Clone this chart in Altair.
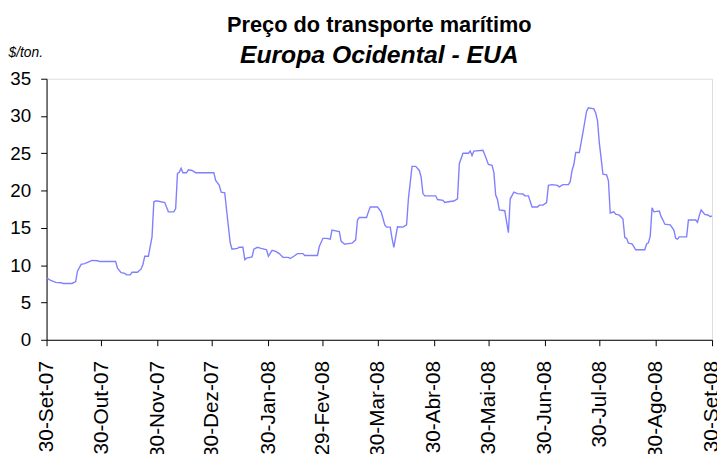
import altair as alt
import pandas as pd

start = "2007-09-30"

# day offsets from 30-Set-07 and price ($/ton.)
days = [
    0, 2, 5, 8, 9, 14, 16, 17, 19, 21,
    25, 28, 29, 38, 39, 41, 43, 44, 46, 47,
    50, 52, 53, 54, 56, 58, 59, 60, 61, 65,
    67, 70, 71, 72, 73, 74, 75, 77, 78, 80,
    82, 92, 93, 95, 96, 98, 99, 101, 102, 105,
    106, 108, 109, 110, 113, 114, 116, 118, 121, 122,
    124, 126, 128, 130, 133, 134, 136, 138, 141, 142,
    149, 150, 152, 154, 156, 157, 159, 161, 162, 164,
    165, 168, 170, 171, 172, 176, 177, 178, 182, 184,
    185, 186, 187, 189, 190, 191, 192, 193, 196, 198,
    199, 201, 203, 205, 206, 207, 208, 214, 215, 218,
    219, 221, 224, 226, 227, 229, 232, 233, 234, 235,
    240, 241, 243, 245, 246, 247, 248, 249, 252, 253,
    254, 255, 257, 259, 262, 263, 265, 267, 270, 271,
    273, 275, 276, 278, 281, 282, 284, 287, 288, 289,
    290, 291, 293, 295, 297, 298, 301, 302, 303, 304,
    306, 308, 309, 310, 312, 313, 315, 317, 318, 319,
    320, 322, 323, 324, 329, 330, 331, 332, 333, 334,
    337, 338, 339, 340, 343, 345, 346, 347, 348, 352,
    353, 357, 358, 359, 360, 362, 364, 365, 366,
]

values = [
    8.3, 8.0, 7.7, 7.65, 7.55, 7.55, 7.8, 9.2, 10.1, 10.2,
    10.65, 10.6, 10.5, 10.5, 9.6, 9.0, 8.9, 8.7, 8.7, 9.05,
    9.05, 9.5, 10.1, 11.2, 11.2, 13.8, 18.5, 18.6, 18.6, 18.4,
    17.15, 17.15, 17.6, 22.3, 22.45, 23.0, 22.4, 22.4, 22.8, 22.7,
    22.4, 22.4, 21.35, 20.7, 19.8, 19.7, 17.4, 13.0, 12.15, 12.25,
    12.4, 12.4, 10.75, 10.95, 11.1, 12.15, 12.4, 12.25, 12.07, 11.2,
    12.0, 11.85, 11.55, 11.05, 11.05, 10.9, 11.2, 11.55, 11.55, 11.3,
    11.3, 12.5, 13.6, 13.6, 13.5, 14.7, 14.6, 14.5, 13.2, 12.8,
    12.85, 12.95, 13.4, 16.05, 16.4, 16.4, 17.15, 17.8, 17.8, 17.15,
    16.3, 15.4, 15.1, 15.1, 13.6, 12.4, 13.8, 15.15, 15.1, 15.4,
    18.9, 23.25, 23.25, 22.7, 21.8, 19.6, 19.3, 19.3, 18.8, 18.7,
    18.4, 18.5, 18.6, 18.9, 23.6, 25.0, 25.0, 25.3, 24.7, 25.3,
    25.4, 24.8, 23.5, 23.4, 22.45, 19.4, 18.8, 17.4, 17.3, 15.8,
    14.35, 18.9, 19.8, 19.6, 19.55, 19.3, 19.3, 17.8, 17.8, 18.05,
    18.05, 18.4, 20.7, 20.8, 20.7, 20.5, 20.8, 20.8, 21.2, 22.7,
    23.5, 25.1, 25.1, 27.8, 30.65, 31.1, 30.95, 30.4, 29.4, 26.4,
    22.2, 22.1, 21.35, 17.0, 17.15, 16.85, 16.7, 16.2, 13.7, 13.6,
    12.95, 12.85, 12.5, 12.07, 12.07, 12.85, 13.0, 13.9, 17.7, 17.15,
    17.25, 16.5, 16.05, 15.5, 15.4, 14.7, 13.6, 13.5, 13.8, 13.8,
    16.05, 16.05, 15.75, 16.7, 17.4, 16.8, 16.7, 16.5, 16.6,
]

tick_dates = [
    "2007-09-30", "2007-10-30", "2007-11-30", "2007-12-30", "2008-01-30",
    "2008-02-29", "2008-03-30", "2008-04-30", "2008-05-30", "2008-06-30",
    "2008-07-30", "2008-08-30", "2008-09-30",
]
month_names = ["Jan", "Fev", "Mar", "Abr", "Mai", "Jun", "Jul", "Ago",
               "Set", "Out", "Nov", "Dez"]
y_ticks = [0, 5, 10, 15, 20, 25, 30, 35]

title_text = "Preço do transporte marítimo"
subtitle_text = "Europa Ocidental - EUA"
y_title = "$/ton."

FONT = "Liberation Sans"


def dt(s):
    y, m, d = (int(p) for p in s.split("-"))
    return alt.DateTime(year=y, month=m, date=d)


dates = pd.Timestamp(start) + pd.to_timedelta(days, unit="D")
df = pd.DataFrame({"data": dates, "preco": values})

month_arr = "[" + ",".join("'%s'" % m for m in month_names) + "]"
label_expr = ("date(datum.value) + '-' + " + month_arr +
              "[month(datum.value)] + '-' + timeFormat(datum.value, '%y')")

chart = (
    alt.Chart(df)
    .mark_line(color="#8080ff", strokeWidth=1.4)
    .encode(
        x=alt.X(
            "data:T",
            scale=alt.Scale(domain=[dt(tick_dates[0]), dt(tick_dates[-1])], nice=False),
            axis=alt.Axis(
                title=None,
                values=[dt(s) for s in tick_dates],
                labelExpr=label_expr,
                labelAngle=-90,
                labelPadding=15,
                labelFontSize=21,
                labelFont=FONT,
                labelColor="black",
                labelOverlap=False,
                labelFlush=False,
                tickSize=6,
                tickColor="black",
                domainColor="black",
                grid=False,
            ),
        ),
        y=alt.Y(
            "preco:Q",
            scale=alt.Scale(domain=[0, 35], nice=False),
            axis=alt.Axis(
                title=y_title,
                titleAngle=0,
                titleAlign="left",
                titleBaseline="alphabetic",
                titleX=-39,
                titleY=-22,
                titleFont=FONT,
                titleFontSize=14,
                titleFontStyle="italic",
                titleFontWeight="normal",
                titleColor="black",
                values=y_ticks,
                labelFontSize=19,
                labelFont=FONT,
                labelColor="black",
                labelPadding=10,
                tickSize=6,
                tickColor="black",
                domainColor="black",
                grid=False,
            ),
        ),
    )
    .properties(
        width=673,
        height=264,
        title=alt.Title(
            text=title_text,
            subtitle=subtitle_text,
            anchor="middle",
            font=FONT,
            fontSize=22,
            fontWeight="bold",
            color="black",
            subtitleFont=FONT,
            subtitleFontSize=25,
            subtitleFontWeight="bold",
            subtitleFontStyle="italic",
            subtitleColor="black",
            subtitlePadding=6,
            offset=-23,
        ),
        autosize=alt.AutoSizeParams(type="none"),
        padding={"left": 39, "top": 69, "right": 5, "bottom": 113},
    )
    .configure_view(stroke=None)
    .configure(background="white")
)

chart.save("out.html", embed_options={"renderer": "svg", "actions": False})
